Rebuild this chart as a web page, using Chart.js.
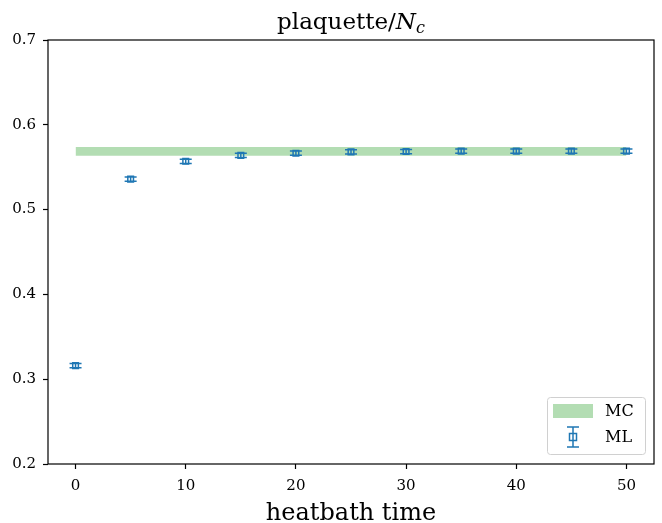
<!DOCTYPE html>
<html><head><meta charset="utf-8">
<script src="https://cdn.jsdelivr.net/npm/chart.js@4/dist/chart.umd.min.js"></script>
<style>html,body{margin:0;padding:0;background:#fff}#wrap{width:662px;height:523px;position:relative}</style>
</head><body><div id="wrap"><canvas id="c" width="662" height="523"></canvas></div>
<script>
const heatbathTime = [0, 5, 10, 15, 20, 25, 30, 35, 40, 45, 50];
const mlValues = [0.316, 0.536, 0.557, 0.564, 0.5665, 0.568, 0.5685, 0.569, 0.569, 0.569, 0.569];
const mlErrors = [0.0025, 0.0025, 0.0025, 0.0025, 0.0025, 0.0025, 0.0025, 0.0025, 0.0025, 0.0025, 0.0025];
const mcX = [0, 50];
const mcLower = [0.5636, 0.5636];
const mcUpper = [0.5738, 0.5738];
const xTicks = [0, 10, 20, 30, 40, 50];
const yTicks = [0.2, 0.3, 0.4, 0.5, 0.6, 0.7];

const SERIF = '"DejaVu Serif", "Liberation Serif", serif';
const BLUE = '#1f77b4';
const GREEN_FILL = 'rgba(44,160,44,0.36)';

const errorBarPlugin = {
  id: 'errbars',
  afterDatasetsDraw(chart) {
    const {ctx, scales: {x, y}} = chart;
    ctx.save();
    ctx.strokeStyle = BLUE;
    ctx.lineWidth = 1.5;
    heatbathTime.forEach((t, i) => {
      const px = x.getPixelForValue(t);
      const y1 = y.getPixelForValue(mlValues[i] - mlErrors[i]);
      const y2 = y.getPixelForValue(mlValues[i] + mlErrors[i]);
      ctx.beginPath();
      ctx.moveTo(px, y1); ctx.lineTo(px, y2);
      ctx.moveTo(px - 6, y1); ctx.lineTo(px + 6, y1);
      ctx.moveTo(px - 6, y2); ctx.lineTo(px + 6, y2);
      ctx.stroke();
    });
    ctx.restore();
  }
};

const framePlugin = {
  id: 'frame',
  afterDraw(chart) {
    const {ctx, chartArea: a} = chart;
    ctx.save();
    ctx.strokeStyle = '#000';
    ctx.lineWidth = 1.2;
    ctx.strokeRect(a.left, a.top, a.right - a.left, a.bottom - a.top);
    const cx = (a.left + a.right) / 2;
    // title
    ctx.fillStyle = '#000';
    ctx.textBaseline = 'alphabetic';
    const t1 = 'plaquette/';
    ctx.font = '23px ' + SERIF;
    const w1 = ctx.measureText(t1).width;
    ctx.font = 'italic 23px ' + SERIF;
    const w2 = ctx.measureText('N').width;
    ctx.font = 'italic 16px ' + SERIF;
    const w3 = ctx.measureText('c').width;
    let sx = cx - (w1 + w2 + w3) / 2;
    const by = 29;
    ctx.textAlign = 'left';
    ctx.font = '23px ' + SERIF;
    ctx.fillText(t1, sx, by);
    ctx.font = 'italic 23px ' + SERIF;
    ctx.fillText('N', sx + w1, by);
    ctx.font = 'italic 16px ' + SERIF;
    ctx.fillText('c', sx + w1 + w2, by + 4);
    // x axis title
    ctx.font = '24px ' + SERIF;
    ctx.textAlign = 'center';
    ctx.fillText('heatbath time', cx, 520);
    // legend
    const lx = 547, ly = 397, lw = 98, lh = 57;
    ctx.fillStyle = 'rgba(255,255,255,0.8)';
    ctx.strokeStyle = '#d0d0d0';
    ctx.lineWidth = 1;
    ctx.beginPath();
    ctx.roundRect(lx + 0.5, ly + 0.5, lw, lh, 3);
    ctx.fill(); ctx.stroke();
    ctx.fillStyle = GREEN_FILL;
    ctx.fillRect(553, 404, 40, 14);
    // ML legend handle
    ctx.strokeStyle = BLUE;
    ctx.lineWidth = 1.5;
    const mx = 573, my = 437;
    ctx.beginPath();
    ctx.moveTo(mx, my - 10); ctx.lineTo(mx, my + 10);
    ctx.moveTo(mx - 6, my - 10); ctx.lineTo(mx + 6, my - 10);
    ctx.moveTo(mx - 6, my + 10); ctx.lineTo(mx + 6, my + 10);
    ctx.stroke();
    ctx.fillStyle = '#fff';
    ctx.fillRect(mx - 3.5, my - 3.5, 7, 7);
    ctx.strokeRect(mx - 3.5, my - 3.5, 7, 7);
    ctx.beginPath(); ctx.moveTo(mx, my - 3.5); ctx.lineTo(mx, my + 3.5); ctx.stroke();
    ctx.fillStyle = '#000';
    ctx.font = '16px ' + SERIF;
    ctx.textAlign = 'left';
    ctx.textBaseline = 'middle';
    ctx.fillText('MC', 605, 412);
    ctx.fillText('ML', 605, 438);
    ctx.restore();
  }
};

new Chart(document.getElementById('c'), {
  type: 'scatter',
  data: {
    datasets: [
      {
        label: 'MC lower', type: 'line',
        data: mcX.map((v, i) => ({x: v, y: mcLower[i]})),
        borderWidth: 0, pointRadius: 0, fill: false, order: 3
      },
      {
        label: 'MC', type: 'line',
        data: mcX.map((v, i) => ({x: v, y: mcUpper[i]})),
        borderWidth: 0, pointRadius: 0, backgroundColor: GREEN_FILL, fill: '-1', order: 3
      },
      {
        label: 'ML',
        data: heatbathTime.map((v, i) => ({x: v, y: mlValues[i]})),
        pointStyle: 'rect', pointRadius: 4, pointBorderWidth: 1.5,
        borderColor: BLUE, backgroundColor: 'rgba(255,255,255,0)', order: 1
      }
    ]
  },
  plugins: [errorBarPlugin, framePlugin],
  options: {
    responsive: false, animation: false, devicePixelRatio: 1,
    layout: {padding: {top: 40, right: 8, left: 0, bottom: 0}},
    plugins: {legend: {display: false}, title: {display: false}, tooltip: {enabled: false}},
    scales: {
      x: {
        type: 'linear', min: -2.5, max: 52.5,
        afterBuildTicks(s) { s.ticks = xTicks.map(v => ({value: v})); },
        afterFit(s) { s.height = 59; },
        grid: {display: true, drawOnChartArea: false, drawTicks: true, tickLength: 5, tickColor: '#000', tickWidth: 1.2},
        border: {display: false},
        ticks: {color: '#000', font: {family: SERIF, size: 15}, padding: 8, maxRotation: 0},
        title: {display: false}
      },
      y: {
        type: 'linear', min: 0.2, max: 0.7,
        afterBuildTicks(s) { s.ticks = yTicks.map(v => ({value: v})); },
        afterFit(s) { s.width = 48; },
        grid: {display: true, drawOnChartArea: false, drawTicks: true, tickLength: 5, tickColor: '#000', tickWidth: 1.2},
        border: {display: false},
        ticks: {color: '#000', font: {family: SERIF, size: 15}, padding: 7, callback: v => v.toFixed(1)}
      }
    }
  }
});
</script></body></html>
